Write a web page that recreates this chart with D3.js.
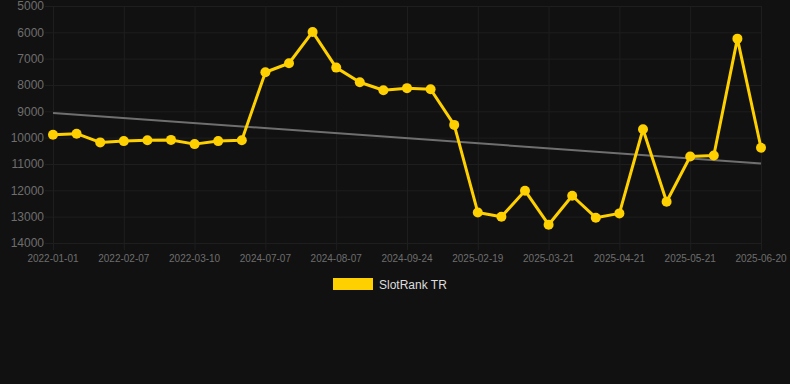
<!DOCTYPE html>
<html>
<head>
<meta charset="utf-8">
<script src="https://cdn.jsdelivr.net/npm/d3@7"></script>
<style>
  html, body { margin: 0; padding: 0; background: #111111; }
  svg { display: block; font-family: Arial, "Liberation Sans", sans-serif; }
</style>
</head>
<body>
<div id="chart"></div>
<script>
    var width = 790
    var height = 384
    var margin = {top: 6, right: 29, bottom: 141, left: 53}

    // dates (category axis, one per point)
    var dates = [
        "2022-01-01", "2022-01-13", "2022-01-25", "2022-02-07", "2022-02-17", "2022-02-27",
        "2022-03-10", "2022-03-22", "2024-06-25", "2024-07-07", "2024-07-17", "2024-07-27",
        "2024-08-07", "2024-08-20", "2024-09-05", "2024-09-24", "2024-10-20", "2024-12-15",
        "2025-02-19", "2025-03-01", "2025-03-11", "2025-03-21", "2025-03-31", "2025-04-10",
        "2025-04-21", "2025-05-01", "2025-05-11", "2025-05-21", "2025-05-31", "2025-06-10",
        "2025-06-20"
    ]
    // rank values
    var ranks = [
        9890, 9850, 10180, 10130, 10095, 10085,
        10245, 10130, 10095, 7515, 7175, 5985,
        7340, 7895, 8200, 8120, 8160, 9515,
        12840, 13000, 12015, 13305, 12205, 13040,
        12875, 9680, 12435, 10715, 10680, 6240,
        10385
    ]
    // trend line, first and last value
    var trend = [9060, 10980]
    var yTicks = [5000, 6000, 7000, 8000, 9000, 10000, 11000, 12000, 13000, 14000]
    var seriesName = "SlotRank TR"

    var svg = d3.select("#chart").append("svg")
        .attr("width", width)
        .attr("height", height)

    var x = d3.scalePoint()
        .domain(d3.range(dates.length))
        .range([margin.left, width - margin.right])

    var y = d3.scaleLinear()
        .domain([5000, 14000])
        .range([margin.top, height - margin.bottom])

    // grid
    var grid = svg.append("g")
    grid.selectAll("line.h")
        .data(yTicks)
        .enter().append("line")
        .attr("x1", margin.left - 8)
        .attr("x2", width - margin.right)
        .attr("y1", function (d) { return y(d) + 0.5 })
        .attr("y2", function (d) { return y(d) + 0.5 })
        .attr("stroke", "#1e1e1e")
        .attr("stroke-width", 1)

    var tickIdx = d3.range(0, dates.length, 3)
    grid.selectAll("line.v")
        .data(tickIdx)
        .enter().append("line")
        .attr("x1", function (d) { return x(d) + 0.5 })
        .attr("x2", function (d) { return x(d) + 0.5 })
        .attr("y1", margin.top)
        .attr("y2", height - margin.bottom + 7)
        .attr("stroke", "#1e1e1e")
        .attr("stroke-width", 1)

    // y axis labels
    svg.append("g").selectAll("text")
        .data(yTicks)
        .enter().append("text")
        .attr("x", 44)
        .attr("y", function (d) { return y(d) })
        .attr("dy", "0.35em")
        .attr("text-anchor", "end")
        .attr("fill", "#6e6e6e")
        .attr("font-size", "12px")
        .text(function (d) { return d })

    // x axis labels
    svg.append("g").selectAll("text")
        .data(tickIdx)
        .enter().append("text")
        .attr("x", function (d) { return x(d) })
        .attr("y", height - margin.bottom + 15)
        .attr("dy", "0.35em")
        .attr("text-anchor", "middle")
        .attr("fill", "#6e6e6e")
        .attr("font-size", "10px")
        .text(function (d) { return dates[d] })

    // trend line
    svg.append("line")
        .attr("x1", x(0))
        .attr("x2", x(dates.length - 1))
        .attr("y1", y(trend[0]))
        .attr("y2", y(trend[1]))
        .attr("stroke", "#6f6f6f")
        .attr("stroke-width", 2)

    // series line
    var line = d3.line()
        .x(function (d, i) { return x(i) })
        .y(function (d) { return y(d) })

    svg.append("path")
        .datum(ranks)
        .attr("d", line)
        .attr("fill", "none")
        .attr("stroke", "#ffd000")
        .attr("stroke-width", 3)
        .attr("stroke-linejoin", "round")

    svg.append("g").selectAll("circle")
        .data(ranks)
        .enter().append("circle")
        .attr("cx", function (d, i) { return x(i) })
        .attr("cy", function (d) { return y(d) })
        .attr("r", 5)
        .attr("fill", "#ffd000")

    // legend
    var legend = svg.append("g")
    legend.append("rect")
        .attr("x", 333)
        .attr("y", 278)
        .attr("width", 40)
        .attr("height", 12)
        .attr("fill", "#ffd000")
    legend.append("text")
        .attr("x", 379)
        .attr("y", 285)
        .attr("dy", "0.35em")
        .attr("fill", "#dddddd")
        .attr("font-size", "12px")
        .text(seriesName)
</script>
</body>
</html>
